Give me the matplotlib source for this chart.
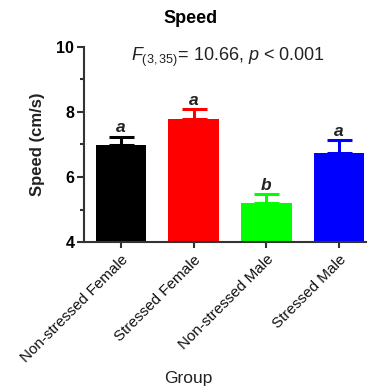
import matplotlib
matplotlib.use("Agg")
import matplotlib.pyplot as plt
from matplotlib.ticker import MultipleLocator

plt.rcParams['font.family'] = ['Liberation Sans', 'DejaVu Sans']
plt.rcParams['mathtext.fontset'] = 'custom'
plt.rcParams['mathtext.rm'] = 'Liberation Sans'
plt.rcParams['mathtext.it'] = 'Liberation Sans:italic'

categories = ["Non-stressed Female", "Stressed Female", "Non-stressed Male", "Stressed Male"]
means = [6.98, 7.78, 5.19, 6.75]
sems = [0.26, 0.30, 0.29, 0.39]
letters = ["a", "a", "b", "a"]
colors = ["#000000", "#ff0000", "#00ff00", "#0000ff"]

fig = plt.figure(figsize=(3.7, 3.91), dpi=100)
ax = fig.add_axes([0.227, 0.381, 0.762, 0.499])

x = range(len(categories))
ax.bar(x, means, width=0.7, color=colors, zorder=2)
for i, (m, s, c) in enumerate(zip(means, sems, colors)):
    ax.errorbar(i, m, yerr=[[0], [s]], color=c, capsize=9, capthick=2.2, elinewidth=2.2, zorder=1)
    ax.text(i, m + s + 0.04, letters[i], ha='center', va='bottom', fontsize=12.5,
            fontweight='bold', fontstyle='italic', color='#222222')

ax.set_ylim(4, 10)
ax.set_xlim(-0.51, 3.37)
ax.yaxis.set_major_locator(MultipleLocator(2))
ax.yaxis.set_minor_locator(MultipleLocator(1))
for sp in ['top', 'right']:
    ax.spines[sp].set_visible(False)
for sp in ['left', 'bottom']:
    ax.spines[sp].set_linewidth(1.5)
    ax.spines[sp].set_color('#333333')
ax.tick_params(axis='both', which='both', direction='out', width=1.5, color='#333333')
ax.tick_params(axis='y', which='major', length=5, labelsize=11.5, pad=2)
ax.tick_params(axis='y', which='minor', length=3)
ax.tick_params(axis='x', length=4)
ax.set_xticks(list(x))
ax.set_xticklabels(categories, rotation=45, ha='right', rotation_mode='anchor', fontsize=11, color='#111111')
for lbl in ax.get_yticklabels():
    lbl.set_fontweight('bold')
ax.set_ylabel("Speed (cm/s)", fontsize=12, fontweight='bold', color='#222222', labelpad=8)
fig.text(0.51, 0.012, "Group", ha='center', va='bottom', fontsize=12.5, color='#222222')
fig.text(0.515, 0.952, "Speed", ha='center', va='center', fontsize=13, fontweight='bold')
ax.text(0.51, 1.005, r"$\mathit{F}_{(3,35)}$= 10.66, $\mathit{p}$ < 0.001", transform=ax.transAxes,
        ha='center', va='top', fontsize=13, color='#222222')

fig.savefig("out.png", dpi=100)
